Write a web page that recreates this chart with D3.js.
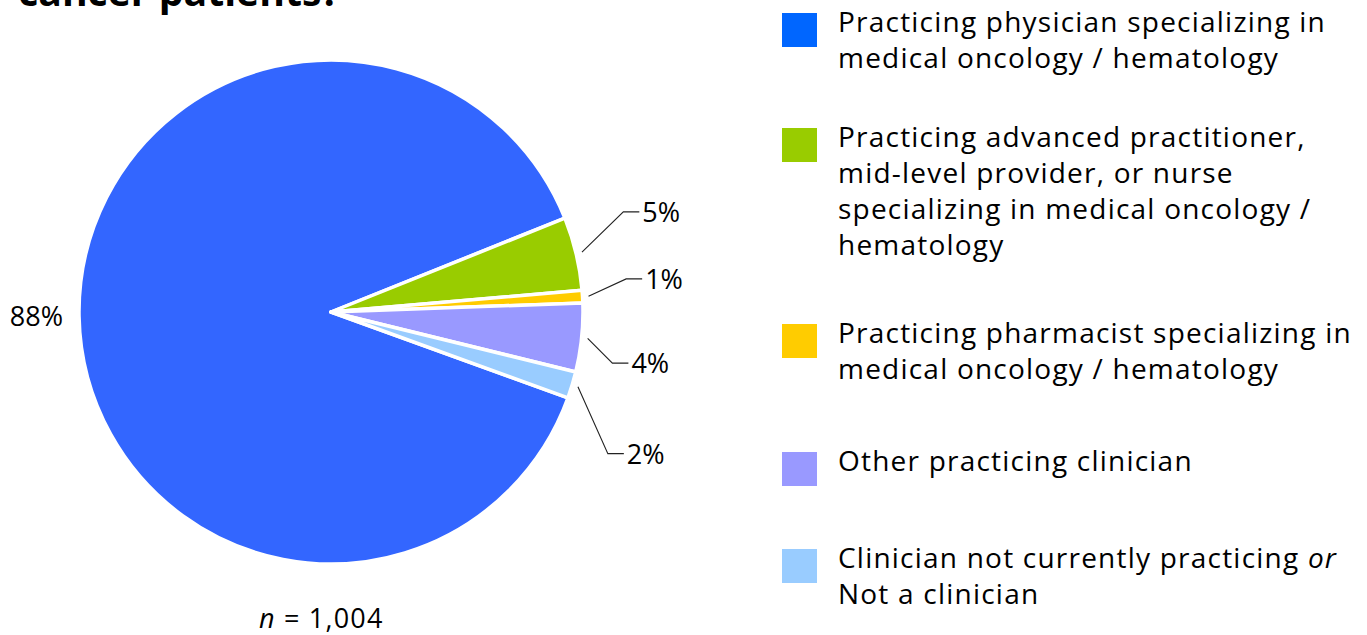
<!DOCTYPE html>
<html>
<head>
<meta charset="utf-8">
<script src="https://cdn.jsdelivr.net/npm/d3@7"></script>
<style>
  html, body { margin: 0; padding: 0; background: #fff; overflow: hidden; }
  svg { display: block; }
</style>
</head>
<body>
<svg id="chart" width="1367" height="635"></svg>
<script>
// ---- data ----
const categories = [
  "Practicing physician specializing in medical oncology / hematology",
  "Practicing advanced practitioner, mid-level provider, or nurse specializing in medical oncology / hematology",
  "Practicing pharmacist specializing in medical oncology / hematology",
  "Other practicing clinician",
  "Clinician not currently practicing or Not a clinician"
];
const legendLines = [
  ["Practicing physician specializing in", "medical oncology / hematology"],
  ["Practicing advanced practitioner,", "mid-level provider, or nurse", "specializing in medical oncology /", "hematology"],
  ["Practicing pharmacist specializing in", "medical oncology / hematology"],
  ["Other practicing clinician"],
  ["Clinician not currently practicing ", "Not a clinician"]
];
const shares = [88.4, 4.7, 0.8, 4.4, 1.7];   // percent of respondents
const sliceColors = ["#3366FF", "#99CC00", "#FFCC00", "#9999FF", "#99CCFF"];
const legendColors = ["#0066FF", "#99CC00", "#FFCC00", "#9999FF", "#99CCFF"];
const sampleLabel = "1,004";
const titleTail = "for cancer patients?";

// ---- layout ----
const svg = d3.select("#chart");
const FONT = "'Open Sans', 'Noto Sans', sans-serif";
const cx = 331, cy = 312, R = 252;
const deg = Math.PI / 180;
const startA = 109.9 * deg;

function measure(str, size, weight) {
  const p = svg.append("text").attr("font-family", FONT).attr("font-size", size)
    .attr("font-weight", weight || "normal").text(str);
  const w = p.node().getComputedTextLength();
  p.remove();
  return w;
}

// title (cut off at top, as in the source slide)
const titleSize = Math.max(30, Math.min(44, 34 * 322 / measure("cancer patients?", 34, "bold")));
svg.append("text")
  .attr("font-family", FONT).attr("font-weight", "bold")
  .attr("font-size", titleSize).attr("text-anchor", "end")
  .attr("x", 340).attr("y", 6).attr("fill", "#000")
  .text(titleTail);

// pie
const pie = d3.pie().sort(null).value(d => d)
  .startAngle(startA).endAngle(startA + 2 * Math.PI);
const arcs = pie(shares);
const arcGen = d3.arc().innerRadius(0).outerRadius(R);

const g = svg.append("g").attr("transform", `translate(${cx},${cy})`);
g.selectAll("path.slice").data(arcs).enter().append("path")
  .attr("class", "slice")
  .attr("d", arcGen)
  .attr("fill", (d, i) => sliceColors[i])
  .attr("stroke", "#fff").attr("stroke-width", 3.5)
  .attr("stroke-linejoin", "round");

// labels
const pctText = v => Math.round(v) + "%";
// leader elbows for the small slices (polar: radius, angle in degrees)
const elbows = [null, [309, 71.1], [297, 83.6], [286, 100.3], [311, 117.1]];
const polar = (r, a) => [r * Math.sin(a), -r * Math.cos(a)];

arcs.forEach((d, i) => {
  const mid = (d.startAngle + d.endAngle) / 2;
  if (!elbows[i]) {
    const [x, y] = polar(R + 16, mid);
    g.append("text").attr("font-family", FONT).attr("font-size", 27)
      .attr("text-anchor", "end").attr("x", x).attr("y", y + 9)
      .attr("fill", "#000").text(pctText(shares[i]));
    return;
  }
  const [sx, sy] = polar(R + 6, mid);
  const [ex, ey] = polar(elbows[i][0], elbows[i][1] * deg);
  g.append("polyline")
    .attr("points", [[sx, sy], [ex, ey], [ex + 16, ey]].map(p => p.join(",")).join(" "))
    .attr("fill", "none").attr("stroke", "#222").attr("stroke-width", 1.1);
  g.append("text").attr("font-family", FONT).attr("font-size", 27)
    .attr("x", ex + 19).attr("y", ey + 10)
    .attr("fill", "#000").text(pctText(shares[i]));
});

// n label
const nT = svg.append("text").attr("font-family", FONT).attr("font-size", 27)
  .attr("letter-spacing", 1.2)
  .attr("x", 259).attr("y", 628).attr("fill", "#000");
nT.append("tspan").attr("font-style", "italic").text("n");
nT.append("tspan").text(" = " + sampleLabel);

// legend
const legFirstBaseline = [32, 147, 343, 471, 568];
const lineH = 36;
const legX = 782, textX = 838;
const legSize = 28;
const ref0 = legendLines[0][0];
const legSpacing = Math.max(0, Math.min(2, (488 - measure(ref0, legSize)) / ref0.length));

const leg = svg.append("g");
legendLines.forEach((lines, i) => {
  const b = legFirstBaseline[i];
  leg.append("rect").attr("x", legX).attr("y", b - 19)
    .attr("width", 35).attr("height", 34).attr("fill", legendColors[i]);
  const t = leg.append("text").attr("font-family", FONT).attr("font-size", legSize)
    .attr("letter-spacing", legSpacing).attr("fill", "#000");
  lines.forEach((ln, j) => {
    t.append("tspan").attr("x", textX).attr("y", b + j * lineH).text(ln);
    if (i === 4 && j === 0) t.append("tspan").attr("font-style", "italic").text("or");
  });
});
</script>
</body>
</html>
